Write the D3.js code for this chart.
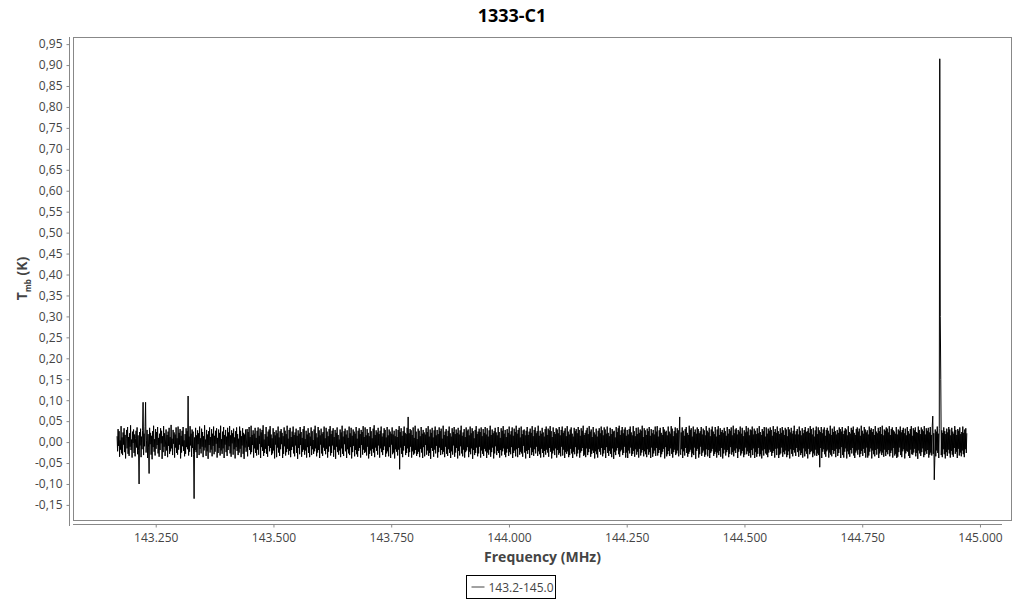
<!DOCTYPE html>
<html><head><meta charset="utf-8">
<script src="https://cdn.jsdelivr.net/npm/d3@7"></script>
<style>
body{margin:0;background:#fff;}
text{font-family:"Open Sans","Noto Sans",sans-serif;}
</style></head>
<body><svg id="c" width="1024" height="600"></svg>
<script>
const title = "1333-C1";
const seriesName = "143.2-145.0";
const freqStart = 143.168, freqEnd = 144.972; // MHz, channel grid of the spectrum
const yTicks = [-0.15,-0.10,-0.05,0.00,0.05,0.10,0.15,0.20,0.25,0.30,0.35,0.40,0.45,0.50,0.55,0.60,0.65,0.70,0.75,0.80,0.85,0.90,0.95];
const xTicks = [143.25,143.5,143.75,144.0,144.25,144.5,144.75,145.0];
// Tmb in mK per channel, in four consecutive pieces of the band
const tmbPartA = [
14,-22,31,-9,26,-35,4,-18,38,-27,11,-31,23,-6,33,-24,17,-39,8,29,
-15,36,-28,12,-33,21,-11,40,-19,6,-37,25,-2,30,-26,18,-34,9,27,-13,
35,-29,16,-21,-100,24,-8,32,-36,13,-17,28,95,-31,20,-10,37,95,-25,3,
29,-38,19,-14,-75,34,-5,22,-30,15,-41,26,-12,39,-23,7,-32,31,-16,24,
-7,36,-27,10,-35,20,-19,33,-3,27,-40,14,-24,38,-11,21,-33,5,30,-20,
17,-36,25,-9,34,-28,12,-22,41,-15,8,-31,29,-4,23,-37,18,-13,35,-26,
9,-30,37,-18,22,-6,31,-39,15,-25,27,-10,36,-21,4,-34,19,-28,33,-12,
26,-17,110,-32,13,-23,38,-8,20,-35,30,-14,25,-29,-135,11,-19,34,-24,16,
-38,28,-5,21,-31,37,-16,9,-27,32,-11,24,-36,14,-20,40,-13,6,-33,29,
-22,18,-40,26,-7,35,-25,12,-18,31,-34,20,-9,37,-29,15,-23,27,-4,33,
-37,10,-26,30,-14,22,-32,39,-20,7,-28,25,-15,36,-38,17,-6,29,-24,13,
-33,34,-19,23,-10,38,-27,16,-35,28,-3,21,-30,32,-17,11,-39,26,-12,35,
-21,19,-31,8,-25,37,-16,27,-36,14,-8,33,-28,22,-40,18,-13,30,-23,5,
31,-34,24,-11,36,-19,12,-29,39,-24,17,-7,28,-37,20,-15,34,-26,10,-32,
27,-18,35,-30,15,-4,32,-38,23,-12,29,-21,40,-33,6,-26,19,-16,36,-28,
13,-35,25,-9,30,-22,38,-14,18,-31,9,-27,33,-20,24,-39,16,-6,28,-36,
21,-13,37,-25,11,-33,26,-17,31,-5,22,-38,14,-28,35,-10,27,-32,19,-24,
39,-16,8,-30,29,-21,34,-36,12,-19,25,-11,37,-27,17,-34,23,-8,32,-26,
15,-40,28,-14,20,-29,36,-7,24,-35,10,-23,31,-18,38,-30,7,-20,27,-37,
18,-12,33,-26,22,-36,13,-9,35,-31,26,-17,5,-28,30,-22,39,-15,21,-34,
11,-25,36,-19,28,-38,16,-6,32,-27,20,-33,24,-13,37,-21,9,-29,34,-16
];
const tmbPartB = [
25,-37,14,-23,31,-10,38,-32,19,-26,27,-8,33,-35,12,-18,29,-40,22,-11,
35,-24,17,-30,6,-20,30,-36,23,-15,39,-28,13,-33,26,-5,32,-22,18,-38,
28,-17,10,-27,37,-31,21,-12,34,-39,15,-24,30,-9,25,-34,20,-19,36,-29,
8,-35,27,-21,33,-14,19,-37,29,-7,24,-30,38,-18,12,-26,35,-23,16,-32,
31,-11,22,-39,14,-28,36,-20,26,-33,9,-16,32,-25,40,-36,17,-13,28,-21,
23,-30,34,-8,19,-37,27,-15,37,-24,13,-31,21,-19,33,-10,29,-35,11,-27,
36,-22,16,-34,30,-12,25,-38,20,-6,35,-29,18,-25,27,-39,14,-17,31,-23,
12,-32,29,-18,38,-65,24,-13,33,-28,15,-36,26,-20,37,-9,22,-31,19,-26,
34,-15,60,-35,21,-24,31,-11,28,-37,17,-22,35,-30,10,-27,39,-19,25,-33,
7,-28,32,-23,27,-36,14,-16,36,-25,20,-38,29,-12,23,-34,18,-7,33,-30,
24,-20,38,-33,13,-26,30,-40,22,-14,34,-21,11,-35,28,-18,37,-27,16,-9,
29,-37,19,-24,35,-13,26,-31,32,-19,8,-29,39,-23,17,-36,25,-11,31,-28,
14,-33,27,-17,37,-26,21,-38,13,-22,33,-30,24,-8,36,-35,19,-25,30,-14,
22,-39,34,-21,18,-32,28,-10,39,-27,15,-34,23,-18,31,-37,12,-24,35,-20,
27,-12,30,-36,16,-23,37,-29,21,-15,33,-40,26,-19,9,-31,29,-26,38,-13,
19,-34,25,-27,32,-11,24,-37,35,-20,14,-28,31,-33,22,-16,36,-22,18,-38,
33,-25,13,-30,28,-18,39,-35,17,-24,30,-13,21,-39,26,-27,34,-10,23,-31,
16,-21,36,-26,24,-37,10,-19,33,-32,27,-22,38,-15,20,-30,29,-36,12,-25,
31,-16,22,-33,37,-24,18,-29,26,-12,35,-38,15,-26,32,-20,24,-34,39,-17,
20,-36,29,-14,34,-30,11,-23,37,-27,19,-35,28,-9,30,-25,16,-39,27,-21,
36,-28,17,-19,25,-38,32,-13,22,-31,38,-24,14,-33,29,-17,35,-27,21,-11
];
const tmbPartC = [
26,-33,39,-22,15,-29,27,-37,20,-16,34,-26,23,-36,13,-21,31,-30,37,-18,
17,-25,32,-35,28,-14,38,-23,26,-39,12,-27,35,-20,24,-31,19,-15,33,-37,
30,-19,21,-30,36,-26,16,-34,29,-11,37,-32,22,-18,27,-38,33,-24,14,-28,
38,-22,25,-36,18,-31,30,-16,35,-27,20,-38,13,-23,34,-29,26,-12,31,-34,
21,-27,36,-18,29,-37,15,-25,33,-21,27,-14,39,-33,17,-30,22,-36,28,-15,
34,-31,19,-24,38,-16,25,-35,30,-28,12,-20,36,-26,23,-39,18,-22,32,-29,
13,-37,27,-17,33,-23,21,-30,37,-14,28,-34,16,-27,35,-19,30,-38,20,-12,
37,-26,22,-33,14,-21,34,-28,19,-36,31,-15,25,-40,27,-24,11,-31,36,-20,
24,-14,33,-29,39,-35,17,-22,28,-18,36,-31,21,-26,30,-11,35,-37,15,-25,
29,-38,18,-20,31,-27,37,-13,23,-33,16,-28,38,-21,26,-35,14,-17,34,-30,
19,-23,35,-37,22,-16,30,-32,27,-25,39,-19,12,-34,33,-22,28,-29,17,-36,
32,-17,26,-30,36,-24,15,-38,31,-13,21,-35,29,-27,18,-20,37,-33,25,-14,
38,-32,13,-26,28,-19,34,-36,22,-29,17,-23,36,-16,30,-39,24,-12,27,-34,
16,-29,37,-21,25,-33,20,-15,38,-28,32,-37,14,-24,26,-18,35,-31,21,-27,
33,-20,28,-34,19,60,-25,-30,23,-17,35,-38,27,-22,15,-32,31,-14,36,-26,
22,-35,17,-28,39,-23,29,-18,33,-36,13,-27,37,-31,24,-13,30,-40,20,-21,
35,-16,31,-37,21,-29,26,-11,36,-33,18,-25,32,-20,28,-35,16,-30,38,-17,
27,-34,23,-19,34,-38,14,-26,30,-22,37,-16,25,-33,19,-28,36,-23,13,-37,
30,-25,38,-31,17,-21,33,-35,24,-14,29,-39,22,-27,34,-18,26,-32,15,-24,
36,-19,20,-36,31,-28,27,-12,35,-30,16,-24,39,-34,21,-20,30,-26,33,-15,
18,-38,29,-23,25,-17,37,-32,20,-27,34,-21,14,-36,28,-30,23,-13,38,-29
];
const tmbPartD = [
25,-22,34,-33,16,-26,30,-37,28,-19,37,-31,18,-15,32,-38,27,-24,19,-35,
33,-28,21,-14,38,-34,24,-29,17,-39,31,-20,26,-32,36,-17,13,-27,35,-30,
20,-36,32,-25,27,-18,35,-23,29,-33,15,-26,38,-21,24,-37,31,-16,22,-31,
37,-15,26,-38,19,-30,33,-27,22,-13,36,-35,28,-24,17,-29,34,-20,30,-36,
14,-31,36,-22,30,-39,23,-17,34,-28,20,-34,27,-19,39,-25,18,-33,26,-14,
31,-24,18,-35,37,-20,27,-31,16,-26,33,-37,21,-15,29,-34,36,-22,24,-28,
26,-39,33,-16,22,-29,38,-24,31,-21,18,-36,34,-27,13,-32,28,-18,37,-33,
19,-27,35,-31,28,-60,24,-14,36,-38,21,-23,30,-17,35,-29,15,-35,29,-22,
34,-18,27,-37,20,-25,39,-30,17,-34,32,-19,24,-28,37,-21,26,-36,18,-16,
29,-33,22,-26,35,-17,31,-38,25,-12,36,-31,19,-37,27,-23,33,-15,30,-39,
16,-22,38,-29,24,-35,20,-19,34,-27,29,-14,37,-32,22,-38,17,-25,31,-20,
35,-30,25,-18,32,-36,15,-28,39,-21,27,-33,20,-16,36,-26,30,-37,23,-13,
28,-37,18,-32,37,-23,29,-15,33,-39,24,-20,31,-29,17,-34,38,-19,25,-30,
21,-16,34,-38,26,-27,36,-22,19,-31,39,-25,16,-35,30,-18,27,-33,35,-24,
32,-29,23,-19,38,-34,17,-26,31,-20,35,-37,28,-14,25,-32,20,-28,36,-38,
18,-35,30,-24,27,-13,37,-31,23,-36,29,-22,34,-17,21,-39,32,-27,16,-21,
36,-23,26,-33,20,-38,31,-18,38,-29,15,-30,33,-25,28,-16,35,-34,24,-26,
22,-40,37,-20,29,-27,19,-33,35,-24,30,-15,26,-36,38,-31,18,-22,33,-28,
27,-19,34,-37,23,-30,36,-25,17,-32,39,62,-28,21,-90,-45,30,-34,25,-20,
37,-26,20,-38,33,915,300,150,-31,28,-36,22,-17,35,-29,26,-39,19,-24,32,
-33,23,-18,36,-27,30,-37,16,-21,34,-30,25,-35,20,-14,38,-28,29,-23,17,
-38,31,-16,27,-32,35,-25,19,-34,24,-20,37,-29,22,-36,30,-17,33,-26,21
];

const tmbMilliK = [].concat(tmbPartA, tmbPartB, tmbPartC, tmbPartD);

const svg = d3.select("#c");
const L = 73, R = 1012, T = 37, B = 520;
const x = d3.scaleLinear().domain([143.0744, 145.068]).range([L, R]);
const y = d3.scaleLinear().domain([-0.186, 0.967]).range([B, T]);
const chan = d3.scaleLinear().domain([0, tmbMilliK.length - 1]).range([freqStart, freqEnd]);
const data = tmbMilliK.map((v, i) => [chan(i), v / 1000]);

svg.append("text").attr("x", 512).attr("y", 22).attr("text-anchor", "middle")
  .attr("font-size", 18).attr("font-weight", "bold").attr("fill", "#000").text(title);

// plot border
svg.append("rect").attr("x", L + 0.5).attr("y", T + 0.5).attr("width", R - L - 1).attr("height", B - T)
  .attr("fill", "none").attr("stroke", "#888");

// y axis
const ya = svg.append("g").attr("transform", `translate(${L - 3.5},0)`)
  .call(d3.axisLeft(y).tickValues(yTicks).tickSize(3).tickPadding(4)
    .tickFormat(d => d3.format(".2f")(d).replace(".", ",").replace("−", "-")));
ya.select(".domain").attr("stroke", "#888").attr("d", `M-0,${T}V${B + 6}`);
ya.selectAll(".tick line").attr("stroke", "#888");
ya.selectAll(".tick text").attr("fill", "#444").attr("font-size", 12)
  .attr("font-family", "'Open Sans','Noto Sans',sans-serif");

// x axis
const xa = svg.append("g").attr("transform", `translate(0,${B + 4.5})`)
  .call(d3.axisBottom(x).tickValues(xTicks).tickSize(3).tickPadding(6)
    .tickFormat(d3.format(".3f")));
xa.select(".domain").attr("stroke", "#888").attr("d", `M${L},0H${R - 10}`);
xa.selectAll(".tick line").attr("stroke", "#888");
xa.selectAll(".tick text").attr("fill", "#444").attr("font-size", 12)
  .attr("font-family", "'Open Sans','Noto Sans',sans-serif");

// series
svg.append("path").datum(data)
  .attr("fill", "none").attr("stroke", "#000").attr("stroke-width", 1)
  .attr("stroke-linejoin", "bevel")
  .attr("d", d3.line().x(d => x(d[0])).y(d => y(d[1])));

// axis titles
svg.append("text").attr("x", (L + R) / 2).attr("y", 562).attr("text-anchor", "middle")
  .attr("font-size", 14).attr("font-weight", "bold").attr("fill", "#444").text("Frequency (MHz)");
const yt = svg.append("text").attr("transform", `translate(27,${(T + B) / 2}) rotate(-90)`)
  .attr("text-anchor", "middle").attr("font-size", 14).attr("font-weight", "bold").attr("fill", "#444");
yt.append("tspan").text("T");
yt.append("tspan").attr("font-size", 8).attr("dy", 4).text("mb");
yt.append("tspan").attr("dy", -4).text(" (K)");

// legend
const lg = svg.append("g").attr("transform", "translate(466.5,575.5)");
lg.append("rect").attr("width", 89).attr("height", 23).attr("fill", "#fff").attr("stroke", "#000");
lg.append("line").attr("x1", 5).attr("x2", 18).attr("y1", 11.5).attr("y2", 11.5).attr("stroke", "#444");
lg.append("text").attr("x", 22).attr("y", 16).attr("font-size", 12).attr("fill", "#444").text(seriesName);
</script></body></html>
